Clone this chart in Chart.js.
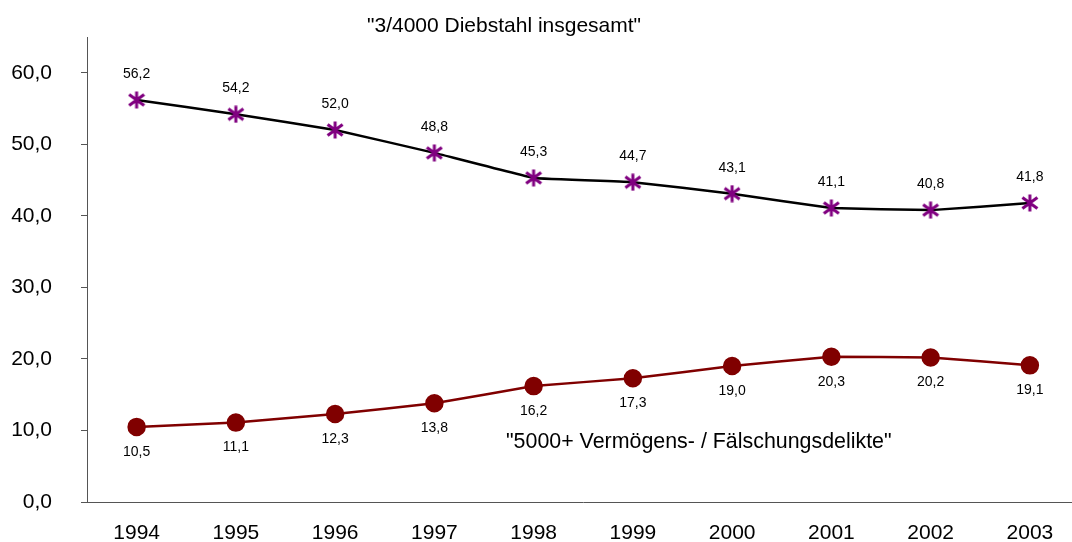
<!DOCTYPE html>
<html lang="de">
<head>
    <meta charset="UTF-8">
    <title>Diebstahl / Vermögensdelikte 1994-2003</title>
    <script src="https://cdn.jsdelivr.net/npm/chart.js"></script>
    <style>
        body { margin: 0; background: #fff; overflow: hidden; }
        .wrap { position: relative; width: 1090px; height: 542px; }
        .note {
            position: absolute;
            font-family: "Liberation Sans", Arial, sans-serif;
            font-size: 21px;
            color: #000;
            white-space: nowrap;
            line-height: 1;
        }
    </style>
</head>
<body>
    <div class="wrap">
        <canvas id="chart" width="1090" height="542"></canvas>
        <div class="note" id="titleTop" style="left:367px; top:14px;">"3/4000 Diebstahl insgesamt"</div>
        <div class="note" id="titleLow" style="left:506px; top:431px; font-size:21.4px;">"5000+ Vermögens- / Fälschungsdelikte"</div>
    </div>

    <script>
        // data
        const years = ['1994', '1995', '1996', '1997', '1998', '1999', '2000', '2001', '2002', '2003'];
        const diebstahl = [56.2, 54.2, 52.0, 48.8, 45.3, 44.7, 43.1, 41.1, 40.8, 41.8];
        const vermoegen = [10.5, 11.1, 12.3, 13.8, 16.2, 17.3, 19.0, 20.3, 20.2, 19.1];
        const yTicks = [0, 10, 20, 30, 40, 50, 60];

        const fmt = v => v.toFixed(1).replace('.', ',');

        // asterisk marker (6 spokes)
        const star = document.createElement('canvas');
        star.width = 18; star.height = 18;
        const sc = star.getContext('2d');
        sc.strokeStyle = '#800080';
        sc.lineWidth = 3;
        sc.beginPath();
        sc.moveTo(9, 0.5); sc.lineTo(9, 17.5);
        sc.moveTo(1.5, 3.5); sc.lineTo(16.5, 14.5);
        sc.moveTo(16.5, 3.5); sc.lineTo(1.5, 14.5);
        sc.stroke();

        // value labels above / below points
        const valueLabels = {
            id: 'valueLabels',
            afterDatasetsDraw(chart) {
                const ctx = chart.ctx;
                ctx.save();
                ctx.font = '14px "Liberation Sans", Arial, sans-serif';
                ctx.fillStyle = '#000';
                ctx.textAlign = 'center';
                ctx.textBaseline = 'middle';
                chart.data.datasets.forEach((ds, i) => {
                    const meta = chart.getDatasetMeta(i);
                    meta.data.forEach((pt, j) => {
                        const dy = ds.labelBelow ? 25 : -26;
                        ctx.fillText(fmt(ds.data[j]), pt.x, pt.y + dy);
                    });
                });
                ctx.restore();
            }
        };

        const tickFont = { family: '"Liberation Sans", Arial, sans-serif', size: 21 };

        new Chart(document.getElementById('chart'), {
            type: 'line',
            data: {
                labels: years,
                datasets: [{
                    label: '3/4000 Diebstahl insgesamt',
                    data: diebstahl,
                    borderColor: '#000',
                    borderWidth: 2.5,
                    pointStyle: star,
                    tension: 0.05,
                    labelBelow: false
                }, {
                    label: '5000+ Vermögens- / Fälschungsdelikte',
                    data: vermoegen,
                    borderColor: '#800000',
                    borderWidth: 2.5,
                    pointStyle: 'circle',
                    pointRadius: 8,
                    pointBackgroundColor: '#800000',
                    pointBorderColor: '#800000',
                    tension: 0.05,
                    labelBelow: true
                }]
            },
            options: {
                responsive: false,
                animation: false,
                layout: { padding: { top: 37, right: 2, left: 0, bottom: 0 } },
                plugins: {
                    legend: { display: false },
                    tooltip: { enabled: false }
                },
                scales: {
                    x: {
                        offset: true,
                        grid: { display: false, drawTicks: false, tickLength: 0 },
                        border: { display: true, color: '#555', width: 1 },
                        ticks: { color: '#000', font: tickFont, padding: 19, maxRotation: 0 },
                        afterFit: s => {
                            s.height = 40;
                            s.paddingLeft = 0; s.paddingRight = 0;
                        }
                    },
                    y: {
                        min: 0,
                        max: 65,
                        grid: { drawOnChartArea: false, tickLength: 6, color: '#555' },
                        border: { display: true, color: '#555', width: 1 },
                        ticks: {
                            color: '#000',
                            font: tickFont,
                            padding: 29,
                            stepSize: 10,
                            callback: v => fmt(v)
                        },
                        afterBuildTicks: s => { s.ticks = yTicks.map(v => ({ value: v })); },
                        afterFit: s => {
                            s.width = 87;
                            s.paddingTop = 0; s.paddingBottom = 0;
                        }
                    }
                }
            },
            plugins: [valueLabels]
        });
    </script>
</body>
</html>
